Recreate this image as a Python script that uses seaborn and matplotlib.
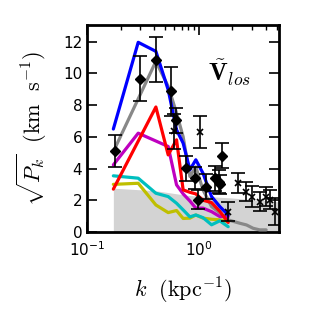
import numpy as np
import matplotlib
matplotlib.use("Agg")
import matplotlib.pyplot as plt
import seaborn as sns
import pandas as pd

# ---- data ----
k_bins = [0.172, 0.287, 0.413, 0.532, 0.632, 0.724, 0.832, 0.94, 1.09, 1.30, 1.54, 1.83]
blue_v = [6.49, 11.96, 11.39, 8.97, 6.44, 5.6, 3.92, 4.55, 3.7, 2.23, 1.6, 1.07]
cyan_v = [3.54, 3.39, 2.44, 2.23, 1.81, 1.39, 0.95, 1.07, 0.9, 0.45, 0.7, 0.33]
yellow_v = [3.0, 3.07, 1.7, 1.22, 1.35, 0.85, 0.87, 1.07, 0.87, 0.8, 0.76, 0.65]

red_k = [0.172, 0.413, 0.532, 0.632, 0.724, 0.832, 0.94, 1.09, 1.30, 1.54, 1.83]
red_v = [2.70, 7.88, 4.86, 5.81, 2.65, 2.5, 2.4, 2.0, 1.85, 1.3, 0.6]

mag_k = [0.172, 0.287, 0.532, 0.632, 0.724, 0.832, 0.94, 1.09, 1.30, 1.54, 1.83]
mag_v = [4.23, 6.23, 5.39, 2.97, 2.4, 1.95, 1.5, 1.5, 1.28, 0.97, 0.97]

gray_k = [0.178, 0.413, 0.532, 0.632, 0.724, 0.832, 0.94, 1.09, 1.30, 1.54, 1.83,
          2.32, 2.67, 3.06, 3.5, 4.0]
gray_v = [5.29, 10.76, 9.18, 7.5, 6.0, 3.5, 4.1, 2.65, 1.6, 1.2, 0.76,
          0.55, 0.44, 0.23, 0.13, 0.13]

fill_k = [0.172, 0.41, 0.8, 1.9, 5.2]
fill_v = [2.76, 2.6, 2.3, 2.15, 1.9]

dia_k = [0.178, 0.297, 0.413, 0.562, 0.625, 0.765, 0.92, 0.98, 1.17, 1.39, 1.50, 1.54, 1.60]
dia_v = [5.12, 9.65, 10.87, 8.86, 7.03, 4.02, 3.39, 2.02, 2.86, 3.39, 3.18, 3.01, 4.82]
dia_e = [1.0, 1.42, 1.4, 1.55, 0.8, 0.8, 0.7, 0.6, 0.8, 0.8, 0.7, 0.6, 0.8]

x_k = [0.60, 1.02, 1.83, 2.24, 2.62, 3.0, 3.5, 3.95, 4.3, 4.77]
x_v = [6.35, 6.3, 1.28, 3.07, 2.55, 2.23, 1.91, 2.23, 2.02, 1.28]
x_e = [1.1, 1.0, 0.6, 0.63, 0.63, 0.65, 0.6, 0.6, 0.6, 0.85]

# ---- style ----
sns.set_style("ticks")
plt.rcParams["font.family"] = ["DejaVu Sans"]
plt.rcParams["mathtext.fontset"] = "cm"
plt.rcParams["text.color"] = "black"
plt.rcParams["axes.labelcolor"] = "black"
plt.rcParams["xtick.color"] = "black"
plt.rcParams["ytick.color"] = "black"

fig = plt.figure(figsize=(3.13, 3.13), dpi=100)
ax = fig.add_axes([0.278, 0.259, 0.613, 0.661])

ax.fill_between(fill_k, 0, fill_v, color="#d3d3d3", lw=0, zorder=1)

lw = 2.3
sns.lineplot(x=gray_k, y=gray_v, color="#888888", lw=lw, ax=ax, zorder=3)
sns.lineplot(x=k_bins, y=yellow_v, color=(0.75, 0.75, 0), lw=lw, ax=ax, zorder=3)
sns.lineplot(x=k_bins, y=cyan_v, color=(0, 0.75, 0.75), lw=lw, ax=ax, zorder=3)
sns.lineplot(x=mag_k, y=mag_v, color=(0.75, 0, 0.75), lw=lw, ax=ax, zorder=3)
sns.lineplot(x=red_k, y=red_v, color="#ff0000", lw=lw, ax=ax, zorder=3)
sns.lineplot(x=k_bins, y=blue_v, color="#0000ff", lw=lw, ax=ax, zorder=3)

ax.errorbar(dia_k, dia_v, yerr=dia_e, fmt="D", color="black", ms=5,
            capsize=5, elinewidth=1.2, capthick=1.2, zorder=5)
ax.errorbar(x_k, x_v, yerr=x_e, fmt="x", color="black", ms=5, mew=1.2,
            capsize=5, elinewidth=1.2, capthick=1.2, zorder=5)

ax.set_xscale("log")
ax.set_xlim(0.1, 5.2)
ax.set_ylim(0, 13.05)
ax.set_yticks([0, 2, 4, 6, 8, 10, 12])
ax.set_xticks([0.1, 1.0])

ax.tick_params(which="both", direction="in", top=True, right=True, labelsize=11,
               colors="black")
ax.tick_params(which="major", length=7, width=1.2)
ax.tick_params(which="minor", length=3.5, width=1.0)
for s in ax.spines.values():
    s.set_linewidth(2)
    s.set_color("black")
ax.tick_params(axis="x", pad=6)

ax.set_xlabel(r"$k\ \ (\mathrm{kpc}^{-1})$", fontsize=16, labelpad=12)
ax.set_ylabel(r"$\sqrt{P_k}\ \ (\mathrm{km\ \ s^{-1}})$", fontsize=16, labelpad=10)

ax.text(0.74, 0.77, r"$\tilde{\mathbf{V}}_{los}$", transform=ax.transAxes,
        fontsize=18, ha="center", va="center")

fig.savefig("out.png", dpi=100)
